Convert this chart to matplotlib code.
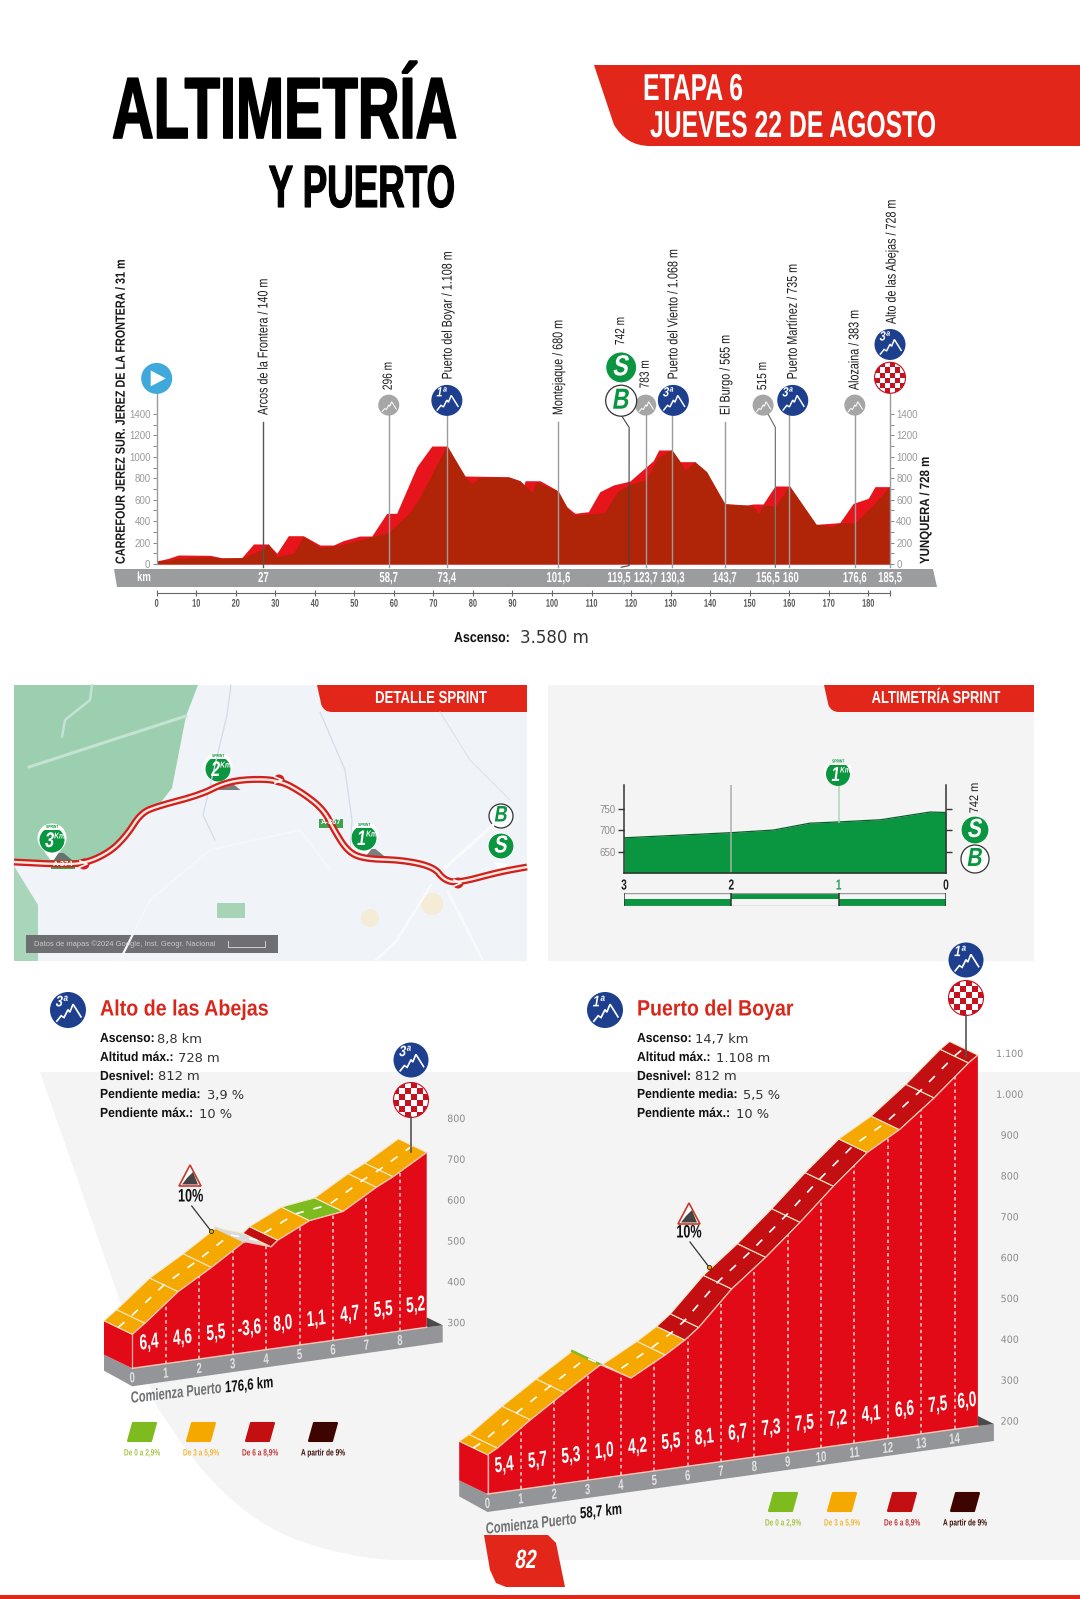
import numpy as np
import matplotlib
matplotlib.use('Agg')
import matplotlib.pyplot as plt
from matplotlib.patches import Circle, PathPatch, Polygon, Rectangle
from matplotlib.path import Path
from matplotlib.patheffects import AbstractPathEffect
from matplotlib.transforms import Affine2D

plt.rcParams['font.family'] = ['Liberation Sans', 'DejaVu Sans']

W, H = 1080, 1599

# main profile, km / m
profile_km = [0, 3, 5.5, 13.5, 16.4, 21.9, 27, 28.2, 30.4, 34.6, 37.1, 41.3, 46.4, 51.4, 54.4, 58.7, 64, 66.6,
              73.4, 78, 79.7, 81.8, 89, 91.9, 94.9, 96.1, 101.6, 103.7, 105.4, 109.2, 113.2, 116.5, 119.5,
              123.7, 126.9, 130.3, 132.4, 133.8, 136.1, 139.1, 143.7, 149.2, 150.9, 152.2, 153.4, 156.5, 160,
              166.8, 169.4, 170.7, 172.8, 176.6, 180.4, 185.5]
profile_m = [31, 35, 53, 68, 53, 60, 140, 187, 68, 100, 255, 155, 177, 224, 255, 296, 479, 628,
             1108, 815, 753, 809, 809, 777, 675, 768, 680, 535, 457, 466, 479, 675, 742,
             783, 1001, 1068, 955, 877, 955, 861, 565, 550, 535, 473, 550, 540, 735,
             370, 364, 348, 386, 383, 519, 728]
road_km = [0, 3, 5.5, 13.5, 16.4, 21.5, 24.5, 28.2, 30.4, 33.3, 37.1, 41.3, 44.7, 47.2, 51.4, 54.4, 58.2, 60.7,
           65.8, 69.6, 73.4, 78, 89, 91.9, 92.9, 93.2, 97, 101.2, 103.7, 105.8, 109.2, 112.1, 115.5, 119.7,
           125.6, 127, 130.3, 132.4, 136.1, 139.1, 143.7, 149.2, 150.9, 153.4, 156.4, 160, 166.8, 172.8,
           176.2, 180, 181.7, 185.5]
road_m = [28, 53, 84, 81, 59, 59, 187, 187, 100, 264, 264, 177, 177, 218, 261, 261, 473, 473,
          908, 1101, 1101, 821, 815, 777, 737, 777, 777, 690, 535, 473, 488, 675, 737, 774,
          964, 1064, 1064, 955, 955, 861, 550, 550, 560, 560, 728, 728, 370, 386,
          566, 613, 722, 722]
elev_ticks = [0, 200, 400, 600, 800, 1000, 1200, 1400]
km_ticks = [0, 10, 20, 30, 40, 50, 60, 70, 80, 90, 100, 110, 120, 130, 140, 150, 160, 170, 180]
band_km = [27, 58.7, 73.4, 101.6, 116.9, 123.7, 130.5, 143.7, 154.6, 160.4, 176.6, 185.5]
band_labels = ['27', '58,7', '73,4', '101,6', '119,5', '123,7', '130,3', '143,7', '156,5', '160', '176,6', '185,5']
stop_names = ['Arcos de la Frontera / 140 m', '296 m', 'Puerto del Boyar / 1.108 m', 'Montejaque / 680 m',
              '742 m', '783 m', 'Puerto del Viento / 1.068 m', 'El Burgo / 565 m', '515 m',
              'Puerto Martínez / 735 m', 'Alozaina / 383 m', 'Alto de las Abejas / 728 m']
stop_text_km = [27, 58.7, 73.6, 101.6, 117.5, 123.7, 130.7, 143.9, 153.4, 160.9, 176.5, 185.9]
stop_text_m = [1390, 1623, 1723, 1390, 2043, 1639, 1723, 1390, 1623, 1723, 1623, 2239]

# sprint profile
sprint_km = [3, 2, 1.61, 1.27, 1, 0.61, 0.15, 0]
sprint_m = [682, 694, 700, 716, 719, 724, 742, 741]
sprint_ticks = [650, 700, 750]

# climbs: nodes of the road, class of each road piece, gradient per km
abejas_km = [0, 0.38, 1.37, 2.37, 3.35, 4.15, 4.35, 5.3, 6.3, 7.3, 7.8, 8.8]
abejas_m = [383, 406, 472, 520, 572, 550, 564, 601, 612, 660, 680, 728]
abejas_cls = ['o', 'o', 'o', 'o', 'w', 'r', 'o', 'g', 'o', 'o', 'o']
abejas_grade = ['6,4', '4,6', '5,5', '-3,6', '8,0', '1,1', '4,7', '5,5', '5,2']
abejas_ticks = [300, 400, 500, 600, 700, 800]
abejas_tick_labels = ['300', '400', '500', '600', '700', '800']

boyar_km = [0, 0.3, 1.29, 2.31, 3.39, 4.3, 5.33, 5.92, 6.33, 7.32, 8.34, 9.37, 10.37, 11.38, 12.35, 13.39, 14.42, 14.7]
boyar_m = [296, 309, 367, 422, 478, 435, 480, 510, 536, 619, 685, 759, 836, 907, 952, 1018, 1092, 1108]
boyar_cls = ['o', 'o', 'o', 'o', 'g', 'o', 'o', 'r', 'r', 'r', 'r', 'r', 'r', 'o', 'r', 'r', 'r']
boyar_grade = ['5,4', '5,7', '5,3', '1,0', '4,2', '5,5', '8,1', '6,7', '7,3', '7,5', '7,2', '4,1', '6,6', '7,5', '6,0']
boyar_ticks = [200, 300, 400, 500, 600, 700, 800, 900, 1000, 1100]
boyar_tick_labels = ['200', '300', '400', '500', '600', '700', '800', '900', '1.000', '1.100']

legend_labels = ['De 0 a 2,9%', 'De 3 a 5,9%', 'De 6 a 8,9%', 'A partir de 9%']
legend_cls = ['g', 'o', 'r', 'd']

RED = '#E3261A'
BLUE = '#1D3F8E'
GREEN = '#0A9640'
GRAY = '#9A9C9E'
road_col = {'g': '#7DBB1F', 'o': '#F5A800', 'r': '#C40F12', 'd': '#3E0500', 'w': '#D9D9D9'}


class Squeeze(AbstractPathEffect):
    # condensed lettering: narrows a text along its baseline, around its anchor
    def __init__(self, text, sx=1.0, shear=0.0, stroke=0.0, sy=1.0):
        super().__init__()
        self.text, self.sx, self.shear, self.stroke, self.sy = text, sx, shear, stroke, sy

    def draw_path(self, renderer, gc, tpath, affine, rgbFace=None):
        x0, y0 = self.text.get_transform().transform(self.text.get_position())
        rot = self.text.get_rotation()
        adj = (Affine2D().translate(-x0, -y0).rotate_deg(-rot).skew_deg(self.shear, 0)
               .scale(self.sx, self.sy).rotate_deg(rot).translate(x0, y0))
        gc0 = renderer.new_gc()
        gc0.copy_properties(gc)
        gc0.set_linewidth(self.stroke)
        gc0.set_foreground(rgbFace)
        renderer.draw_path(gc0, tpath, affine + adj, rgbFace)
        gc0.restore()


def txt(ax, x, y, s, size, sx=1.0, color='k', weight='normal', ha='center', va='center', rot=0,
        shear=0.0, stroke=0.0, family=None, sy=1.0, **kw):
    t = ax.text(x, y, s, fontsize=size, color=color, fontweight=weight, ha=ha, va=va, rotation=rot,
                rotation_mode='anchor', clip_on=False, **kw)
    if family:
        t.set_family(family)
    if sx != 1.0 or sy != 1.0 or shear or stroke:
        t.set_path_effects([Squeeze(t, sx, shear, stroke, sy)])
    return t


def ax_px(l, t, r, b, **kw):
    return fig.add_axes([l / W, 1 - b / H, (r - l) / W, (b - t) / H], **kw)


fig = plt.figure(figsize=(W / 100, H / 100), dpi=100, facecolor='white')

page = ax_px(0, 0, W, H, zorder=0)
top = ax_px(0, 0, W, H, zorder=10)
for a in (page, top):
    a.set_xlim(0, W)
    a.set_ylim(H, 0)
    a.axis('off')


def poly(ax, pts, color, **kw):
    p = Polygon(pts, closed=True, facecolor=color, edgecolor=kw.pop('ec', 'none'), **kw)
    ax.add_patch(p)
    return p


def chaikin(xs, ys, n=3):
    # round off a hand traced polyline (map route, page curve)
    pts = np.c_[xs, ys].astype(float)
    for _ in range(n):
        q = 0.75 * pts[:-1] + 0.25 * pts[1:]
        r = 0.25 * pts[:-1] + 0.75 * pts[1:]
        mid = np.empty((2 * len(q), 2))
        mid[0::2], mid[1::2] = q, r
        pts = np.vstack([pts[0], mid, pts[-1]])
    return pts[:, 0], pts[:, 1]


def banner(ax, x0, x1, y0, y1, inset, curve):
    # red tab with a rounded lower left corner
    verts = [(x0, y0), (x1, y0), (x1, y1), (x0 + inset + curve, y1), (x0 + inset, y1),
             (x0 + inset * 0.62, y1 - curve * 0.9), (x0, y0)]
    codes = [Path.MOVETO, Path.LINETO, Path.LINETO, Path.LINETO, Path.CURVE3, Path.LINETO, Path.LINETO]
    ax.add_patch(PathPatch(Path(verts, codes), facecolor=RED, edgecolor='none'))


def badge(ax, cx, cy, r, label=None, color=BLUE):
    ax.add_patch(Circle((cx, cy), r, facecolor=color, edgecolor='none'))
    zx = np.array([-0.62, -0.38, -0.22, 0.0, 0.1, 0.28, 0.42, 0.72])
    zy = np.array([0.62, 0.32, 0.42, -0.02, 0.12, -0.32, -0.1, 0.38])
    ax.plot(cx + zx * r, cy + zy * r, color='white', lw=1.1 * r / 16, solid_joinstyle='miter')
    if label:
        txt(ax, cx - 0.35 * r, cy - 0.45 * r, label, r * 0.62, sx=0.8, color='white', weight='bold', shear=12)


def checker(ax, cx, cy, r):
    clip = Circle((cx, cy), r, facecolor='white', edgecolor='#C8101E', lw=0.8)
    ax.add_patch(clip)
    s = r * 2 / 6
    for i in range(6):
        for j in range(6):
            if (i + j) % 2 == 1:
                q = Rectangle((cx - r + i * s, cy - r + j * s), s, s, facecolor='#C8101E', edgecolor='none')
                ax.add_patch(q)
                q.set_clip_path(clip)


def letter_badge(ax, cx, cy, r, letter, solid):
    if solid:
        ax.add_patch(Circle((cx, cy), r, facecolor=GREEN, edgecolor='white', lw=0.8))
        txt(ax, cx, cy, letter, r * 1.35, sx=0.8, color='white', weight='bold', shear=12)
    else:
        ax.add_patch(Circle((cx, cy), r, facecolor='white', edgecolor='#333333', lw=0.9))
        txt(ax, cx, cy, letter, r * 1.35, sx=0.8, color=GREEN, weight='bold', shear=12)


def pin(ax, cx, cy, tip, r, label):
    ax.add_patch(Polygon([(cx + 1, tip), (cx + r + 8, tip), (cx + r - 3, tip - 9), (cx + 6, tip - 9)],
                         facecolor='#555555', edgecolor='none', alpha=0.75))
    ax.add_patch(Polygon([(cx - r * 0.7, cy + r * 0.7), (cx + r * 0.7, cy + r * 0.7), (cx, tip)],
                         facecolor='white', edgecolor='none'))
    head = Circle((cx, cy), r, facecolor='white', edgecolor='none')
    ax.add_patch(head)
    ax.add_patch(Circle((cx, cy + 2), r - 2, facecolor=GREEN, edgecolor='none'))
    cap = Rectangle((cx - r, cy - r), 2 * r, 6.5, facecolor='white', edgecolor='none')
    ax.add_patch(cap)
    cap.set_clip_path(head)
    txt(ax, cx, cy - r + 3.5, 'SPRINT', 3.2, sx=0.75, color=GREEN, weight='bold')
    txt(ax, cx + 2, cy + 3.5, label, r * 1.05, sx=0.75, color='white', weight='bold', shear=10, ha='right')
    txt(ax, cx + 2, cy - 1, 'Km', r * 0.42, sx=0.8, color='white', weight='bold', shear=10, ha='left')


def warning(ax, cx, cy, tx, ty, lx, ly):
    pts = [(cx, cy - 12), (cx + 11, cy + 9), (cx - 11, cy + 9)]
    ax.add_patch(Polygon(pts, closed=True, facecolor='white', edgecolor='#C8392B', lw=1.2, joinstyle='miter'))
    ax.add_patch(Polygon([(cx - 8, cy + 7.5), (cx + 8, cy + 7.5), (cx + 3, cy - 5), (cx - 3, cy + 1)],
                         facecolor='#444444', edgecolor='none'))
    txt(ax, tx, ty, '10%', 13, sx=0.7, color='#111111', weight='bold')
    ax.plot([tx + 1, lx], [ty + 9, ly], color='#333333', lw=0.9)
    ax.plot([lx], [ly], 'o', ms=3, mfc='#F5A800', mec='#222222', mew=0.6)


# page background
edge_x, edge_y = chaikin([157, 200, 250, 300, 373, 420], [1407, 1470, 1517, 1543, 1560, 1560])
page.add_patch(Polygon(np.vstack([[(40, 1072), (1080, 1072), (1080, 1560)], np.c_[edge_x, edge_y][::-1]]),
                       facecolor='#F4F4F4', edgecolor='none'))
page.add_patch(Rectangle((0, 1595), W, 4, facecolor=RED, edgecolor='none'))

# title
txt(page, 112, 138, 'ALTIMETRÍA', 62.5, sx=0.665, weight='bold', ha='left', va='baseline', stroke=1.2)
txt(page, 455, 207, 'Y PUERTO', 43, sx=0.615, weight='bold', ha='right', va='baseline', stroke=0.8)
banner(page, 594, W, 65, 146, 32, 24)
txt(page, 643, 100, 'ETAPA 6', 27, sx=0.66, color='white', weight='bold', ha='left', va='baseline')
txt(page, 650, 137, 'JUEVES 22 DE AGOSTO', 27, sx=0.66, color='white', weight='bold', ha='left', va='baseline')

# main profile
main = ax_px(156.7, 414, 890, 564, zorder=2)
main.patch.set_alpha(0)
main.set_xlim(0, 185.5)
main.set_ylim(0, 1400)
main.fill_between(road_km, 0, road_m, color='#E8141C', lw=0, clip_on=False)
main.fill_between(profile_km, 0, profile_m, color='#B02407', lw=0, clip_on=False)
for side in ('top', 'left', 'right'):
    main.spines[side].set_visible(False)
main.spines['bottom'].set_position(('outward', 21))
main.spines['bottom'].set_color('#666666')
main.spines['bottom'].set_linewidth(0.8)
main.set_xticks(km_ticks + [185.5])
main.set_xticklabels([str(v) for v in km_ticks] + [''])
main.tick_params(axis='x', length=4, width=0.8, color='#666666', direction='inout', pad=2, labelsize=8,
                 labelcolor='#555555')
for t in main.get_xticklabels():
    t.set_fontweight('bold')
    t.set_path_effects([Squeeze(t, 0.66)])
main.set_yticks(elev_ticks)
main.set_yticks(np.arange(100, 1400, 200), minor=True)
main.tick_params(axis='y', which='both', left=True, right=True, labelleft=True, labelright=True, length=3,
                 width=0.7, color='#888888', labelsize=7, labelcolor='#9A9A9A', pad=1.5)

# stage stops
main.plot([0, 0], [0, 1732], color=GRAY, lw=1, clip_on=False)
for k in (27, 101.6, 143.7):
    main.plot([k, k], [-30, 1328], color='#555555' if k == 27 else GRAY, lw=1, clip_on=False)
for k, top_m in zip((58.7, 73.4, 123.7, 130.3, 160, 176.6), (1483, 1527, 1483, 1527, 1527, 1483)):
    main.plot([k, k], [-30, top_m], color=GRAY, lw=1, clip_on=False)
main.plot([117.5, 119.5, 119.5, 117.5], [-30, -15, 1275, 1390], color='#444444', lw=0.8, clip_on=False)
main.plot([156.5, 156.5, 153.4], [-30, 1275, 1483], color='#777777', lw=0.9, clip_on=False)
main.plot([185.5, 185.5], [-30, 1738], color=GRAY, lw=1, clip_on=False)
for k, v, s in zip(stop_text_km, stop_text_m, stop_names):
    is_pass = s[0].isalpha()
    txt(main, k, v, s, 10.2 if is_pass else 9.6, sx=0.76, color='#1C1C1C', ha='left', rot=90)


def main_xy(km, m):
    return page.transData.inverted().transform(main.transData.transform((km, m)))


cx, cy = main_xy(0, 1732)
top.add_patch(Circle((cx, cy), 15.5, facecolor='#3FA9DC', edgecolor='none'))
top.add_patch(Polygon([(cx - 6, cy - 8), (cx + 9, cy), (cx - 6, cy + 8)], facecolor='white', edgecolor='none'))
for k, m_, lab in ((73.4, 1527, '1ª'), (130.7, 1527, '3ª'), (160.9, 1527, '3ª'), (185.5, 2049, '3ª')):
    badge(top, *main_xy(k, m_), 15.5, lab)
for k in (58.7, 123.7, 153.4, 176.6):
    badge(top, *main_xy(k, 1483), 10.5, None, color='#A6A6A6')
checker(top, *main_xy(185.5, 1738), 15.5)
letter_badge(top, *main_xy(117.5, 1835), 15.5, 'S', True)
letter_badge(top, *main_xy(117.5, 1524), 15.5, 'B', False)

# grey km band and side captions
page.add_patch(Polygon([(114, 569), (933, 569), (937, 587), (117, 587)], facecolor=GRAY, edgecolor='none'))
txt(page, 144, 578, 'km', 9.5, sx=0.72, color='white', weight='bold')
for k, s in zip(band_km, band_labels):
    txt(main, k, -131, s, 7.8, sx=0.88, sy=1.34, color='white', weight='bold')
txt(page, 121.7, 564, 'CARREFOUR JEREZ SUR. JEREZ DE LA FRONTERA / 31 m', 9.6, sx=0.81, color='#1A1A1A',
    weight='bold', ha='left', rot=90)
txt(page, 926, 564, 'YUNQUERA / 728 m', 9.6, sx=0.86, color='#1A1A1A', weight='bold', ha='left', rot=90)
txt(page, 454, 638, 'Ascenso:', 10.5, sx=0.85, color='#111111', weight='bold', ha='left')
txt(page, 520, 638, '3.580 m', 12, color='#333333', ha='left', family='DejaVu Sans')

# sprint map
page.add_patch(Rectangle((14, 685), 513, 276, facecolor='#F0F3F7', edgecolor='none'))
poly(page, [(14, 685), (198, 685), (186, 716), (172, 788), (158, 806), (141, 813), (127, 835), (110, 852),
            (84, 864), (14, 862)], '#9CCFB0')
poly(page, [(14, 866), (38, 905), (38, 961), (14, 961)], '#A9D5BA')
for rx, ry, c, lw in (([29, 186], [767, 716], '#C4E3D2', 2.2),
                      ([62, 65, 90, 92], [737, 720, 700, 685], '#C4E3D2', 1.8),
                      ([231, 227, 203, 215], [685, 715, 815, 840], '#D3DCE8', 0.9),
                      ([320, 345, 352, 350], [712, 770, 820, 850], '#D3DCE8', 0.9),
                      ([440, 470, 510], [712, 760, 800], '#DDE3EC', 0.9),
                      ([431, 397, 375], [885, 940, 961], '#F9FAFC', 2),
                      ([448, 483], [892, 961], '#F9FAFC', 2),
                      ([445, 493], [868, 825], '#F9FAFC', 2.5),
                      ([120, 150, 210, 300, 330], [960, 900, 850, 830, 870], '#F5F7FA', 1.6)):
    page.plot(rx, ry, color=c, lw=lw, solid_capstyle='round')
page.add_patch(Rectangle((217, 903), 28, 15, facecolor='#A8D4B6', edgecolor='none'))
page.add_patch(Circle((370, 918), 9, facecolor='#F5ECD5', edgecolor='none'))
page.add_patch(Circle((432, 904), 11, facecolor='#F5ECD5', edgecolor='none'))
route_x = [14, 52, 84, 110, 127, 141, 158, 200, 224, 248, 279, 303, 324, 334, 348, 365, 403, 434, 444, 458, 499, 527]
route_y = [862, 864, 864, 852, 835, 813, 806, 795, 783, 779, 780, 793, 810, 830, 852, 859, 860, 867, 880, 883, 872, 867]
smooth_x, smooth_y = chaikin(route_x, route_y)
page.plot(smooth_x, smooth_y, color='#D0211E', lw=5, solid_joinstyle='round', solid_capstyle='butt')
page.plot(smooth_x, smooth_y, color='#FFE9E0', lw=1.7, solid_joinstyle='round', solid_capstyle='butt')
for rx, ry in ((84, 864), (279, 780), (458, 883)):
    page.add_patch(Circle((rx, ry), 5.5, facecolor='#D0211E', edgecolor='none'))
    page.plot([rx - 4, rx + 3, rx - 4], [ry - 3, ry, ry + 3], color='white', lw=1.2)
for cxp, cyp, tp, s in ((52, 838, 862, '3'), (218, 767, 790, '2'), (364, 836, 858, '1')):
    pin(page, cxp, cyp, tp, 14.5, s)
for rx, ry, s in ((63, 864, 'A-374'), (331, 823, 'A-367')):
    page.add_patch(Rectangle((rx - 12, ry - 4.5), 24, 9, facecolor='#3FA34D', edgecolor='none'))
    txt(page, rx, ry, s, 5.4, color='white', weight='bold')
page.add_patch(Rectangle((26, 935), 252, 18, facecolor='#6E6F73', edgecolor='none'))
txt(page, 34, 944, 'Datos de mapas ©2024 Google, Inst. Geogr. Nacional', 5.4, color='#C9C9C9', ha='left')
page.plot([228, 228, 265, 265], [941, 947, 947, 941], color='#D0D0D0', lw=0.7)
page.add_patch(Polygon([(501, 874), (508, 864), (494, 862)], facecolor='white', edgecolor='none'))
letter_badge(page, 501, 846, 13, 'S', True)
letter_badge(page, 501, 816, 12, 'B', False)
banner(page, 317, 527, 685, 712, 7, 8)
txt(page, 431, 698.5, 'DETALLE SPRINT', 12.5, sx=0.76, color='white', weight='bold')

# sprint profile
page.add_patch(Rectangle((548, 685), 486, 276, facecolor='#F4F4F4', edgecolor='none'))
banner(page, 824, 1034, 685, 712, 7, 8)
txt(page, 936, 698.5, 'ALTIMETRÍA SPRINT', 12.5, sx=0.75, color='white', weight='bold')
sp = ax_px(624, 785, 946, 873, zorder=2)
sp.patch.set_alpha(0)
sp.set_xlim(3, 0)
sp.set_ylim(600, 805)
sp.fill_between(sprint_km, 600, sprint_m, color=GREEN, lw=0)
sp.plot(sprint_km, sprint_m, color='#0B5E2C', lw=0.9)
sp.plot([2, 2], [600, 805], color='#A5B2A8', lw=1.1)
sp.plot([1, 1], [719, 830], color='#A8D8B8', lw=1.1, clip_on=False)
sp.spines['top'].set_visible(False)
for s in ('left', 'right', 'bottom'):
    sp.spines[s].set_color('#333333')
    sp.spines[s].set_linewidth(1.1)
sp.set_yticks(sprint_ticks)
sp.tick_params(axis='y', left=True, right=True, length=4, width=1, color='#333333', labelsize=7,
               labelcolor='#8C8C8C', pad=2)
sp.set_xticks([3, 2, 1, 0])
sp.tick_params(axis='x', length=0, pad=4, labelsize=10.5, labelcolor='#222222')
for t, c in zip(sp.get_xticklabels(), ['#222222', '#222222', '#2E9E5B', '#222222']):
    t.set_color(c)
    t.set_fontweight('bold')
    t.set_path_effects([Squeeze(t, 0.7)])
strip = ax_px(624, 893, 946, 905.5, zorder=2)
strip.set_xlim(3, 0)
strip.set_ylim(0, 2)
strip.patch.set_alpha(0)
strip.barh([0.5, 1.5, 0.5], [1, 1, 1], left=[2, 1, 0], height=1, color=GREEN, align='center')
strip.hlines([2, 0], 3, 0, color='#999999', lw=1)
strip.vlines([3, 2, 1, 0], -0.3, 2.3, color='#333333', lw=1.1)
strip.axis('off')
pin_top = Circle((838, 772), 14, facecolor='white', edgecolor='none')
top.add_patch(pin_top)
top.add_patch(Circle((838, 774), 12, facecolor=GREEN, edgecolor='none'))
cap = Rectangle((824, 758), 28, 6.5, facecolor='#F4F4F4', edgecolor='none')
top.add_patch(cap)
cap.set_clip_path(pin_top)
txt(top, 838, 761.5, 'SPRINT', 3.2, sx=0.75, color=GREEN, weight='bold')
txt(top, 840, 775.5, '1', 14.7, sx=0.75, color='white', weight='bold', shear=10, ha='right')
txt(top, 840, 771, 'Km', 5.9, sx=0.8, color='white', weight='bold', shear=10, ha='left')
txt(page, 975, 798, '742 m', 9, sx=0.88, color='#222222', rot=90)
letter_badge(page, 975, 830, 14, 'S', True)
letter_badge(page, 975, 859, 14, 'B', False)


def draw_climb(km, m, cls, grade, x0, y0, m0, ticks, tick_labels, tick_km, flag_x, flag_y, grade_up):
    # oblique view: km runs along a rising baseline, metres straight up
    dx, dy, sy = (x0[1] - x0[0]) / km[-1], (y0[0] - y0[1]) / km[-1], 0.4085
    proj = Affine2D.from_values(dx, -dy, 0, -sy, x0[0], y0[0] + sy * m0)
    rot = np.degrees(np.arctan2(dy, dx))
    off = np.array([-28.3, -13.6])
    km, m = np.asarray(km, float), np.asarray(m, float)
    front = proj.transform(np.c_[km, m])
    p0, pe = proj.transform([[0, m0], [km[-1], m0]])

    poly(page, [p0 + off, p0, pe, pe + (16, -2), pe + (16, 15), p0 + (0, 18), p0 + off + (0, 16)], '#939598')
    poly(page, [pe, pe + (0, -10), pe + (16, -2)], '#4A4A4A')
    poly(page, [p0 + off, p0, front[0], front[0] + off], '#E30A17')
    page.plot([p0[0], front[0][0]], [p0[1], front[0][1]], color='#F7B7A8', lw=0.9)
    for i, c in enumerate(cls):
        poly(page, [front[i], front[i + 1], front[i + 1] + off, front[i] + off], road_col[c],
             ec='#F6E7C4', lw=0.8, joinstyle='miter')
        if m[i + 1] < m[i]:
            # a descent is almost edge-on, only its crest shows
            page.plot([front[i][0] + off[0], front[i][0]], [front[i][1] + off[1], front[i][1]],
                      color=road_col[c], lw=1.8)
    mid = front + off / 2
    page.plot(mid[:, 0], mid[:, 1], color='white', lw=1.2, dashes=(5, 6))
    poly(page, np.vstack([[p0], front, [pe]]), '#E30A17')
    page.plot(front[:, 0], front[:, 1], color='#F9C5B5', lw=0.9)
    page.plot([p0[0], pe[0]], [p0[1], pe[1]], color='#F9C5B5', lw=1.0)
    last = int(np.floor(km[-1]))
    for k in range(1, last + 1):
        xy = proj.transform([[k, m0], [k, np.interp(k, km, m)]])
        page.plot(xy[:, 0], xy[:, 1], color='#FFD8D0', lw=1.1, dashes=(2.2, 2.2))
    for k in range(last + 1):
        bx, by = proj.transform([k, m0])
        txt(page, bx, by + 10, str(k), 10.5, sx=0.66, color='#E2E2E2', weight='bold', rot=rot, shear=rot)
    for k, s in enumerate(grade):
        bx, by = proj.transform([min(k + 0.5, km[-1] - 0.33), m0])
        txt(page, bx, by - grade_up, s, 15.5, sx=0.64, color='white', weight='bold', rot=rot, shear=rot)
    for v, s in zip(ticks, tick_labels):
        lx, ly = proj.transform([tick_km, v])
        txt(page, lx, ly, s, 7.2, color='#8C8C8C', family='DejaVu Sans', sx=0.95)
    top_xy = proj.transform([km[-1] - 0.4, np.interp(km[-1] - 0.4, km, m)])
    page.plot([flag_x, flag_x], [flag_y + 17, top_xy[1] - 10], color='#555555', lw=1.2)
    checker(page, flag_x, flag_y, 17.5)


def stats(x, rows, xvals):
    for (lab, val), y, xv in zip(rows, (1039, 1058, 1077, 1095, 1114), xvals):
        txt(page, x, y, lab, 9.5, sx=0.92, color='#111111', weight='bold', ha='left')
        txt(page, xv, y, val, 9.4, color='#333333', ha='left', family='DejaVu Sans')


def legend(xs, y, ty):
    for xc, c, s in zip(xs, legend_cls, legend_labels):
        poly(page, [(xc - 9, y - 9), (xc + 14, y - 9), (xc + 9, y + 9), (xc - 14, y + 9)], road_col[c], ec=road_col[c],
             lw=1.5, joinstyle='round')
        tc = {'g': '#A8C64E', 'o': '#F0B93C', 'r': '#C23A3A', 'd': '#3E0F08'}[c]
        txt(page, xc, ty, s, 6.6, sx=0.72, color=tc, weight='bold')


# Alto de las Abejas
badge(page, 68, 1010, 18, '3ª')
txt(page, 100, 1010, 'Alto de las Abejas', 16, sx=0.885, color='#D8281C', weight='bold', ha='left')
stats(100, [('Ascenso:', '8,8 km'), ('Altitud máx.:', '728 m'), ('Desnivel:', '812 m'),
            ('Pendiente media:', '3,9 %'), ('Pendiente máx.:', '10 %')], [157, 178, 158, 207, 199])
draw_climb(abejas_km, abejas_m, abejas_cls, abejas_grade, (132.3, 426.7), (1368.3, 1327.3), 300,
           abejas_ticks, abejas_tick_labels, 9.68, 411, 1100, 23)
badge(page, 411, 1060, 17.5, '3ª')
warning(page, 190, 1177, 190.7, 1197, 211, 1231)
txt(page, 222, 1388, 'Comienza Puerto', 11.5, sx=0.7, color='#6E7072', weight='bold', ha='right', rot=6.5, shear=6.5)
txt(page, 225, 1388, '176,6 km', 11.5, sx=0.72, color='#111111', weight='bold', ha='left', rot=6.5, shear=6.5)
legend([142, 201, 260, 323], 1432, 1453)

# Puerto del Boyar
badge(page, 605, 1010, 18, '1ª')
txt(page, 637, 1010, 'Puerto del Boyar', 16, sx=0.88, color='#D8281C', weight='bold', ha='left')
stats(637, [('Ascenso:', '14,7 km'), ('Altitud máx.:', '1.108 m'), ('Desnivel:', '812 m'),
            ('Pendiente media:', '5,5 %'), ('Pendiente máx.:', '10 %')], [695, 716, 695, 743, 736])
draw_climb(boyar_km, boyar_m, boyar_cls, boyar_grade, (487.5, 977.9), (1494, 1426), 200,
           boyar_ticks, boyar_tick_labels, 15.65, 966, 998, 26)
badge(page, 966, 960, 17.5, '1ª')
warning(page, 689, 1215, 689, 1233, 709, 1267)
txt(page, 577, 1519, 'Comienza Puerto', 11.5, sx=0.7, color='#6E7072', weight='bold', ha='right', rot=6.5, shear=6.5)
txt(page, 580, 1514, '58,7 km', 11.5, sx=0.72, color='#111111', weight='bold', ha='left', rot=6.5, shear=6.5)
legend([783, 842, 902, 965], 1502, 1523)

# page number tab
tab = [(484, 1535), (548, 1535), (556, 1543), (565, 1587), (506, 1587), (496, 1583), (490, 1570)]
poly(page, tab, RED)
txt(page, 526, 1561, '82', 19, sx=0.72, color='white', weight='bold', shear=12)

fig.savefig('out.png', dpi=100)
